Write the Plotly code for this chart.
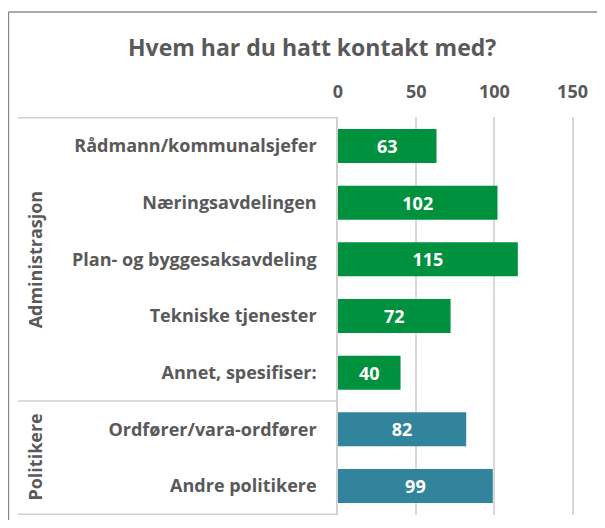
import plotly.graph_objects as go

categories = ["Rådmann/kommunalsjefer", "Næringsavdelingen", "Plan- og byggesaksavdeling",
              "Tekniske tjenester", "Annet, spesifiser:", "Ordfører/vara-ordfører", "Andre politikere"]
values = [63, 102, 115, 72, 40, 82, 99]
groups = ["Administrasjon"] * 5 + ["Politikere"] * 2
group_colors = {"Administrasjon": "#00913F", "Politikere": "#31849B"}
x_ticks = [0, 50, 100, 150]
title = "Hvem har du hatt kontakt med?"

FONT = "Open Sans"
GRAY = "#595959"
FS = 18
WT = 700

# page is offset by the default 8px body margin
OFF = 8
W, H = 605 - 2 * OFF, 528 - 2 * OFF
L, T = 338 - OFF, 117 - OFF
PR, PB = 596 - OFF, 515 - OFF
R, B = W - PR, H - PB
pw = W - L - R
ph = H - T - B

fig = go.Figure(go.Bar(
    y=categories, x=values, orientation="h",
    marker=dict(color=[group_colors[g] for g in groups], line=dict(width=0)),
    text=[str(v) for v in values], textposition="inside", insidetextanchor="middle",
    textfont=dict(family=FONT, size=FS, color="white", weight=WT),
    cliponaxis=False, hoverinfo="skip",
))

def px_x(px):
    return (px - OFF - L) / pw

def px_y(py):
    return (H - B - (py - OFF)) / ph

shapes = []
n_admin = groups.count("Administrasjon")
for yv in [-0.5, n_admin - 0.5, len(categories) - 0.5]:
    shapes.append(dict(type="line", xref="paper", yref="y", x0=px_x(18), x1=0, y0=yv, y1=yv,
                       line=dict(color="#D0D0D0", width=1.5)))
# chart outer border
shapes.append(dict(type="line", xref="paper", yref="paper", x0=px_x(8.5), x1=px_x(8.5), y0=px_y(540), y1=px_y(12),
                   line=dict(color="#8C8C8C", width=1.5)))
shapes.append(dict(type="line", xref="paper", yref="paper", x0=px_x(8.5), x1=px_x(620), y0=px_y(12), y1=px_y(12),
                   line=dict(color="#8C8C8C", width=1.5)))

annotations = [
    dict(text="Administrasjon", xref="paper", yref="y", x=px_x(35), y=(n_admin - 1) / 2,
         xanchor="center", yanchor="middle",
         textangle=-90, showarrow=False, font=dict(family=FONT, size=FS, color=GRAY, weight=WT)),
    dict(text="Politikere", xref="paper", yref="y", x=px_x(35), y=(n_admin + len(categories) - 1) / 2,
         xanchor="center", yanchor="middle",
         textangle=-90, showarrow=False, font=dict(family=FONT, size=FS, color=GRAY, weight=WT)),
    dict(text=title, xref="paper", yref="paper", x=px_x(312), y=px_y(47), showarrow=False,
         xanchor="center", yanchor="middle",
         font=dict(family=FONT, size=23, color=GRAY, weight=WT)),
]

fig.update_layout(
    width=W, height=H, margin=dict(l=L, r=R, t=T, b=B, autoexpand=False),
    paper_bgcolor="white", plot_bgcolor="white",
    bargap=0.4, showlegend=False,
    shapes=shapes, annotations=annotations,
    font=dict(family=FONT, color=GRAY),
)
fig.update_xaxes(side="top", range=[0, 165], tickvals=x_ticks, ticktext=[str(t) for t in x_ticks],
                 showgrid=True, gridcolor="#D9D9D9", gridwidth=1.5, zeroline=False,
                 showline=False, ticks="", ticklabelstandoff=14, automargin=False,
                 tickfont=dict(family=FONT, size=FS, color=GRAY, weight=WT))
fig.update_yaxes(autorange="reversed", showline=True, linecolor="#D0D0D0", linewidth=1.5,
                 ticks="", ticklabelstandoff=16, showgrid=False, automargin=False,
                 tickfont=dict(family=FONT, size=FS, color=GRAY, weight=WT))

fig.write_html("out.html")
